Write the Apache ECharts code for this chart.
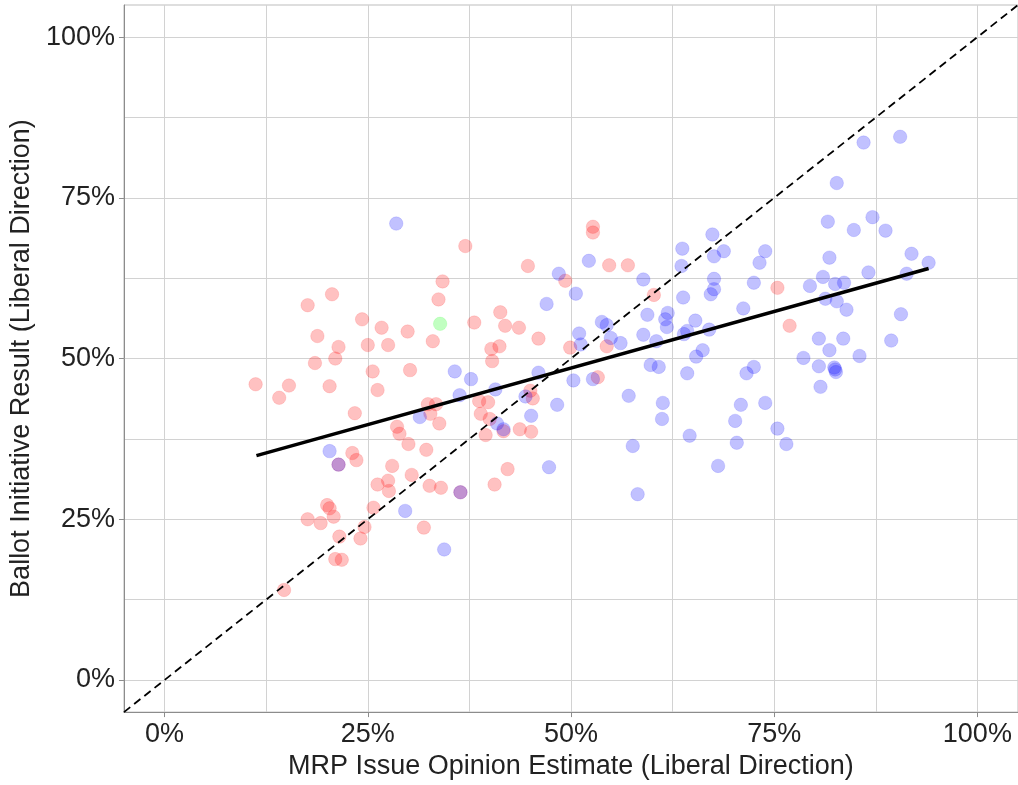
<!DOCTYPE html>
<html>
<head>
<meta charset="utf-8">
<title>MRP vs Ballot Initiative</title>
<script src="https://cdn.jsdelivr.net/npm/echarts@6/dist/echarts.min.js"></script>
<style>
  html, body { margin: 0; padding: 0; background: #fff; }
  #chart-container { width: 1018px; height: 785px; }
</style>
</head>
<body>
<div id="chart-container"></div>
<script>
// values in percent
const redPoints = [
  [20.6, 60.0], [17.6, 58.3], [18.8, 53.5], [21.4, 51.8], [21.0, 50.0], [18.5, 49.3],
  [11.2, 46.0], [15.3, 45.8], [20.3, 45.7], [14.1, 43.9], [21.4, 33.5], [20.0, 27.2],
  [20.3, 26.7], [17.6, 25.0], [19.2, 24.4], [20.8, 25.4], [21.5, 22.3], [21.0, 18.8],
  [21.8, 18.7], [14.7, 14.0], [37.0, 67.5], [44.7, 64.4], [34.2, 62.0], [33.7, 59.2],
  [24.3, 56.1], [26.7, 54.8], [29.9, 54.2], [33.0, 52.7], [25.0, 52.1], [27.5, 52.1],
  [38.1, 55.6], [41.3, 57.2], [41.9, 55.1], [43.6, 54.8], [46.0, 53.1], [40.2, 51.5],
  [41.2, 51.9], [40.3, 49.6], [25.6, 48.0], [30.2, 48.2], [26.2, 45.1], [45.0, 45.0],
  [45.3, 43.8], [32.4, 42.9], [33.4, 42.9], [38.7, 43.4], [39.8, 43.2], [23.4, 41.5],
  [32.7, 41.4], [33.8, 39.9], [28.6, 39.4], [28.9, 38.3], [38.9, 41.4], [40.0, 40.6],
  [41.7, 38.7], [39.5, 38.1], [43.7, 39.0], [45.1, 38.6], [23.1, 35.3], [23.6, 34.2],
  [30.0, 36.7], [32.2, 35.8], [28.0, 33.3], [30.4, 31.9], [26.2, 30.4], [27.5, 31.0],
  [27.6, 29.4], [32.6, 30.2], [34.0, 29.9], [36.4, 29.2], [42.2, 32.8], [40.6, 30.4],
  [25.7, 26.8], [24.6, 23.8], [24.1, 22.0], [31.9, 23.7], [52.7, 70.5], [52.7, 69.6],
  [54.7, 64.5], [57.0, 64.5], [49.3, 62.1], [60.2, 59.9], [49.9, 51.7], [54.4, 51.9],
  [75.4, 61.0], [53.3, 47.1], [76.9, 55.1]
];

const bluePoints = [
  [28.5, 71.0], [20.3, 35.6], [21.4, 33.5], [47.0, 58.5], [35.7, 48.0], [37.7, 46.8],
  [36.3, 44.3], [40.7, 45.2], [46.0, 47.8], [44.4, 44.1], [31.4, 40.9], [40.9, 39.9],
  [41.7, 39.0], [45.1, 41.1], [36.4, 29.2], [47.3, 33.1], [29.6, 26.3], [34.4, 20.3],
  [52.2, 65.2], [48.5, 63.2], [50.6, 60.1], [58.9, 62.3], [59.4, 56.8], [53.8, 55.7],
  [54.4, 55.2], [51.0, 53.9], [54.9, 53.2], [51.2, 52.2], [56.1, 52.4], [58.9, 53.7],
  [60.5, 52.7], [61.9, 57.1], [61.6, 56.1], [61.8, 54.9], [63.7, 67.1], [63.6, 64.4],
  [63.8, 59.5], [65.3, 55.9], [64.3, 54.3], [63.9, 53.8], [67.0, 54.5], [66.2, 51.3],
  [65.4, 50.3], [67.4, 69.3], [67.6, 65.9], [68.8, 66.7], [67.6, 62.4], [67.6, 60.8],
  [67.2, 60.0], [71.2, 57.8], [72.5, 61.8], [73.2, 64.9], [73.9, 66.7], [50.3, 46.6],
  [52.7, 46.8], [59.8, 49.0], [60.8, 48.7], [64.3, 47.7], [71.6, 47.7], [72.5, 48.7],
  [48.3, 42.8], [57.1, 44.2], [61.3, 43.1], [70.9, 42.8], [73.9, 43.1], [61.2, 40.6],
  [70.2, 40.3], [64.6, 38.0], [70.4, 36.9], [75.4, 39.1], [57.6, 36.4], [68.1, 33.3],
  [58.2, 28.9], [90.5, 84.5], [86.0, 83.6], [82.7, 77.3], [81.6, 71.3], [87.1, 72.0],
  [84.8, 70.0], [88.7, 69.9], [81.8, 65.7], [91.9, 66.3], [94.0, 64.9], [81.0, 62.7],
  [86.6, 63.4], [91.3, 63.2], [79.4, 61.3], [82.5, 61.6], [83.6, 61.8], [81.3, 59.3],
  [82.7, 58.9], [83.9, 57.6], [90.6, 56.9], [80.5, 53.1], [83.5, 53.1], [89.4, 52.8],
  [81.8, 51.3], [78.6, 50.1], [85.5, 50.4], [80.5, 48.8], [82.4, 48.6], [82.5, 48.3],
  [82.6, 47.9], [80.7, 45.6], [76.5, 36.7]
];

const greenPoints = [[33.9, 55.4]];

// fitted line end points
const fitLine = [[11.3, 34.9], [94.0, 64.0]];
const diagonal = [[-5, -5], [105, 105]];

const tickValues = [0, 25, 50, 75, 100];
const gridValues = [0, 12.5, 25, 37.5, 50, 62.5, 75, 87.5, 100];

const textColor = '#222';
const fontFamily = '"Liberation Sans", Arial, sans-serif';

const gridAxis = () => ({
  type: 'value',
  min: -5,
  max: 105,
  axisLine: { show: false },
  axisTick: { show: false, customValues: gridValues },
  axisLabel: { show: false, customValues: gridValues },
  splitLine: {
    show: true,
    customValues: gridValues,
    lineStyle: { color: '#d2d2d2', width: 1 },
  },
});

const labelAxis = (name, nameGap) => ({
  type: 'value',
  min: -5,
  max: 105,
  name: name,
  nameLocation: 'middle',
  nameGap: nameGap,
  nameTextStyle: { color: textColor, fontSize: 27, fontFamily: fontFamily },
  axisLine: { show: true, onZero: false, lineStyle: { color: '#8c8c8c', width: 1 } },
  axisTick: { show: true, length: 5, customValues: tickValues, lineStyle: { color: '#8c8c8c' } },
  axisLabel: {
    customValues: tickValues,
    formatter: '{value}%',
    color: textColor,
    fontSize: 27,
    fontFamily: fontFamily,
    margin: 9,
  },
  splitLine: { show: false },
});

const pointSeries = (data, rgb) => ({
  type: 'scatter',
  data: data,
  xAxisIndex: 0,
  yAxisIndex: 0,
  symbolSize: 13.5,
  itemStyle: {
    color: 'rgba(' + rgb + ',0.3)',
    borderColor: 'rgba(' + rgb + ',0.15)',
    borderWidth: 1,
  },
});

const chart = echarts.init(document.getElementById('chart-container'), null, { renderer: 'canvas' });

chart.setOption({
  animation: false,
  grid: {
    left: 122,
    top: 5,
    width: 896,
    height: 712,
    show: true,
    borderColor: '#bdbdbd',
    borderWidth: 1,
    backgroundColor: '#fff',
  },
  xAxis: [
    Object.assign(gridAxis(), { position: 'bottom' }),
    Object.assign(labelAxis('MRP Issue Opinion Estimate (Liberal Direction)', 38), { position: 'bottom' }),
  ],
  yAxis: [
    Object.assign(gridAxis(), { position: 'left' }),
    Object.assign(labelAxis('Ballot Initiative Result (Liberal Direction)', 86), { position: 'left' }),
  ],
  series: [
    pointSeries(redPoints, '255,0,0'),
    pointSeries(bluePoints, '0,0,255'),
    pointSeries(greenPoints, '0,255,0'),
    {
      type: 'line',
      data: fitLine,
      showSymbol: false,
      symbol: 'none',
      lineStyle: { color: '#000', width: 3.5 },
      z: 3,
    },
    {
      type: 'line',
      data: diagonal,
      showSymbol: false,
      symbol: 'none',
      lineStyle: { color: '#000', width: 1.8, type: [8, 5] },
      z: 3,
    },
  ],
});
</script>
</body>
</html>
